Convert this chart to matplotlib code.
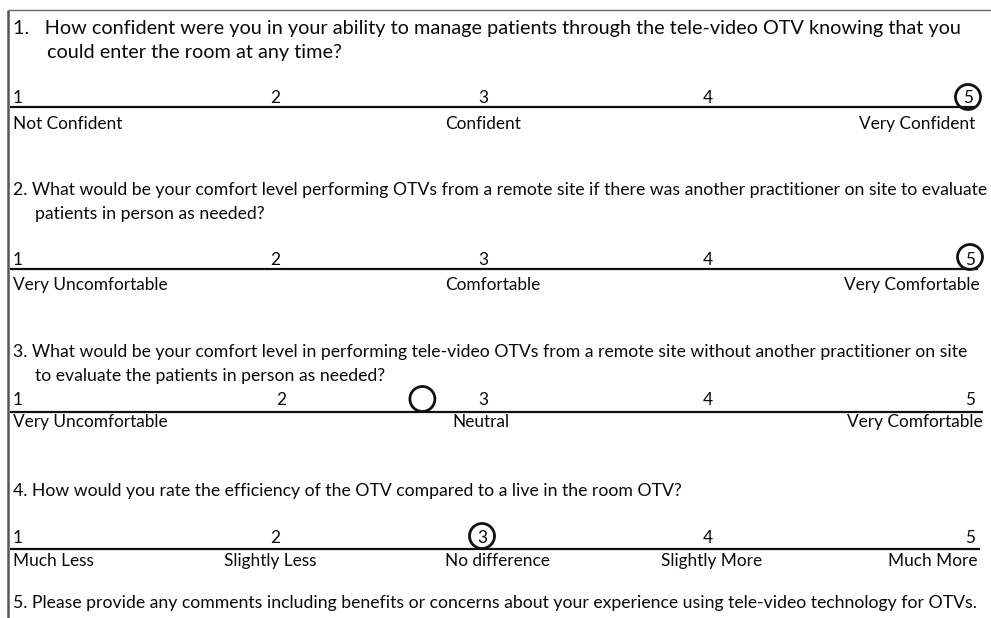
import numpy as np
import matplotlib
matplotlib.use("Agg")
import matplotlib.pyplot as plt
from matplotlib.patches import Circle

# ---------------- data ----------------
question_lines = [
    ["1.   How confident were you in your ability to manage patients through the tele-video OTV knowing that you",
     "could enter the room at any time?"],
    ["2. What would be your comfort level performing OTVs from a remote site if there was another practitioner on site to evaluate",
     "patients in person as needed?"],
    ["3. What would be your comfort level in performing tele-video OTVs from a remote site without another practitioner on site",
     "to evaluate the patients in person as needed?"],
    ["4. How would you rate the efficiency of the OTV compared to a live in the room OTV?"],
    ["5. Please provide any comments including benefits or concerns about your experience using tele-video technology for OTVs."],
]
scale_numbers = ["1", "2", "3", "4", "5"]
anchor_labels = [
    {1: "Not Confident", 3: "Confident", 5: "Very Confident"},
    {1: "Very Uncomfortable", 3: "Comfortable", 5: "Very Comfortable"},
    {1: "Very Uncomfortable", 3: "Neutral", 5: "Very Comfortable"},
    {1: "Much Less", 2: "Slightly Less", 3: "No difference", 4: "Slightly More", 5: "Much More"},
]
responses = [5, 5, 2.7, 3]

# ---------------- layout ----------------
W, H = 991, 618
FONT = "Lato"
fig = plt.figure(figsize=(W / 100, H / 100), dpi=100)
ax = fig.add_axes([0, 0, 1, 1])
ax.set_xlim(0, W)
ax.set_ylim(H, 0)
ax.axis("off")
renderer = fig.canvas.get_renderer()


def fit_size(text, target_px, base=12):
    t = ax.text(0, 0, text, fontsize=base, family=FONT)
    w = t.get_window_extent(renderer).width
    t.remove()
    return base * target_px / w


size_q1 = fit_size(question_lines[0][0], 949)
size_body = fit_size(question_lines[1][0], 972)
size_lab = fit_size("Very Uncomfortable", 155)

# box border
ax.plot([7.5, W], [10, 10], color="#666666", lw=1.0, solid_capstyle="butt")
ax.plot([7.5, 7.5], [10, H], color="#555555", lw=1.8, solid_capstyle="butt")

q_text_y = [(34, 58), (195, 219), (357, 381), (496,), (608,)]
q_text_x = [(13, 47), (13, 35), (13, 35), (13,), (13,)]
for i, lines in enumerate(question_lines):
    fs = size_q1 if i == 0 else size_body
    for j, line in enumerate(lines):
        ax.text(q_text_x[i][j], q_text_y[i][j], line, fontsize=fs, family=FONT,
                va="baseline", ha="left", color="#0a0a0a")

num_x = [
    [13, 275, 483, 708, 968],
    [13, 275, 483, 708, 970],
    [13, 281, 483, 708, 975],
    [13, 275, 482, 708, 975],
]
label_x = [
    {1: 13, 3: 483, 5: 975},
    {1: 13, 3: 493, 5: 980},
    {1: 13, 3: 481, 5: 983},
    {1: 13, 2: 270, 3: 497, 4: 712, 5: 977},
]
line_y = [107, 269, 412, 549]
line_x1 = [975, 978, 983, 980]
num_base = [103, 265, 405, 543]
lab_base = [129, 290, 427, 566]
circle_dy = [10, 12, 13, 13]

for k in range(4):
    ax.plot([10, line_x1[k]], [line_y[k], line_y[k]], color="#111111", lw=1.6,
            solid_capstyle="butt")
    for n, lab in enumerate(scale_numbers):
        x = num_x[k][n]
        ha = "left" if n == 0 else ("right" if n == 4 and k >= 2 else "center")
        ax.text(x, num_base[k], lab, fontsize=size_lab, family=FONT, va="baseline",
                ha=ha, color="#0a0a0a")
    for pos, lab in anchor_labels[k].items():
        ha = "left" if pos == 1 else ("right" if pos == 5 else "center")
        ax.text(label_x[k][pos], lab_base[k], lab, fontsize=size_lab, family=FONT,
                va="baseline", ha=ha, color="#0a0a0a")
    # circled answer
    centers = list(num_x[k])
    if k >= 2:
        centers[4] = centers[4] - 5
    cx = np.interp(responses[k], [1, 2, 3, 4, 5], centers)
    cy = line_y[k] - circle_dy[k]
    ax.add_patch(Circle((cx, cy), 12.5, fill=False, ec="#111111", lw=2.0))

fig.savefig("out.png", dpi=100)
